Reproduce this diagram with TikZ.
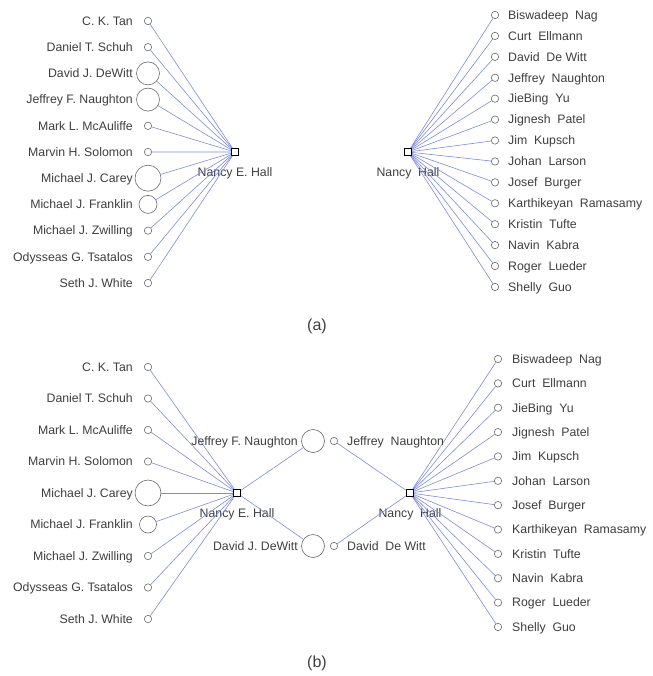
\documentclass[tikz,border=0pt]{standalone}
\usepackage{fontspec}
\setmainfont{Liberation Sans}
\usetikzlibrary{positioning}
\definecolor{linkblue}{RGB}{124,138,222}
\definecolor{ringgray}{RGB}{105,105,105}
\definecolor{namegray}{RGB}{62,62,62}
\tikzset{author/.style = {circle, draw=ringgray, line width=0.6pt, inner sep=0pt, minimum size=#1}}
\tikzset{hub/.style = {rectangle, draw=black, line width=0.7pt, inner sep=0pt, minimum size=7.5pt}}
\tikzset{link/.style = {draw=linkblue, line width=0.6pt}}
\tikzset{who/.style = {text=namegray, inner sep=2pt, font=\fontsize{12.3}{14}\selectfont}}
\tikzset{caption/.style = {text=namegray, font=\fontsize{16}{19}\selectfont}}

\begin{document}
\begin{tikzpicture}[x=1pt, y=-1pt]
    \useasboundingbox (0, 0) rectangle (652, 676);

    % (a)
    \node [hub] (hubA) at (235, 152) {};
    \node [who, below=9pt of hubA] (hubAname) {Nancy E. Hall};
    \foreach \name/\r [count=\i] in {C. K. Tan/7.4, Daniel T. Schuh/7.4,
        David J. DeWitt/23, Jeffrey F. Naughton/23, Mark L. McAuliffe/7.4,
        Marvin H. Solomon/7.4, Michael J. Carey/26, Michael J. Franklin/18,
        Michael J. Zwilling/7.4, Odysseas G. Tsatalos/7.4, Seth J. White/7.4} {
      \pgfmathsetmacro{\y}{21 + (\i - 1) * 26.2}
      \node [author=\r pt] (la\i) at (148, \y) {};
      \node [who, anchor=base east] (lat\i) at (135, \y + 4.3) {\name};
      \draw [link] (hubA) -- (la\i);
    }

    \node [hub] (hubB) at (408, 152) {};
    \node [who, below=9pt of hubB] (hubBname) {Nancy\ \ Hall};
    \foreach \name [count=\i] in {Biswadeep\ \ Nag, Curt\ \ Ellmann,
        David\ \ De Witt, Jeffrey\ \ Naughton, JieBing\ \ Yu, Jignesh\ \ Patel,
        Jim\ \ Kupsch, Johan\ \ Larson, Josef\ \ Burger,
        Karthikeyan\ \ Ramasamy, Kristin\ \ Tufte, Navin\ \ Kabra,
        Roger\ \ Lueder, Shelly\ \ Guo} {
      \pgfmathsetmacro{\y}{15 + (\i - 1) * 20.92}
      \node [author=7.4pt] (ra\i) at (495, \y) {};
      \node [who, anchor=base west] (rat\i) at (506, \y + 4.3) {\name};
      \draw [link] (hubB) -- (ra\i);
    }

    \node [caption] (capA) at (317, 326) {(a)};

    % (b)
    \node [hub] (hubC) at (237, 493) {};
    \node [who, below=9pt of hubC] (hubCname) {Nancy E. Hall};
    \foreach \name/\r [count=\i] in {C. K. Tan/7.4, Daniel T. Schuh/7.4,
        Mark L. McAuliffe/7.4, Marvin H. Solomon/7.4, Michael J. Carey/26,
        Michael J. Franklin/17, Michael J. Zwilling/7.4,
        Odysseas G. Tsatalos/7.4, Seth J. White/7.4} {
      \pgfmathsetmacro{\y}{367 + (\i - 1) * 31.5}
      \node [author=\r pt] (lb\i) at (148, \y) {};
      \node [who, anchor=base east] (lbt\i) at (135, \y + 4.3) {\name};
      \draw [link] (hubC) -- (lb\i);
    }

    \node [hub] (hubD) at (410, 493) {};
    \node [who, below=9pt of hubD] (hubDname) {Nancy\ \ Hall};
    \foreach \name [count=\i] in {Biswadeep\ \ Nag, Curt\ \ Ellmann,
        JieBing\ \ Yu, Jignesh\ \ Patel, Jim\ \ Kupsch, Johan\ \ Larson,
        Josef\ \ Burger, Karthikeyan\ \ Ramasamy, Kristin\ \ Tufte,
        Navin\ \ Kabra, Roger\ \ Lueder, Shelly\ \ Guo} {
      \pgfmathsetmacro{\y}{359 + (\i - 1) * 24.36}
      \node [author=7.4pt] (rb\i) at (498, \y) {};
      \node [who, anchor=base west] (rbt\i) at (510, \y + 4.3) {\name};
      \draw [link] (hubD) -- (rb\i);
    }

    % shared authors in the middle
    \node [author=23pt] (jfn) at (313, 441) {};
    \node [who, anchor=base east] (jfnt) at (300, 445.3) {Jeffrey F. Naughton};
    \node [author=23pt] (djd) at (313, 546) {};
    \node [who, anchor=base east] (djdt) at (300, 550.3) {David J. DeWitt};
    \node [author=7.4pt] (jn) at (334, 441) {};
    \node [who, anchor=base west] (jnt) at (345, 445.3) {Jeffrey\ \ Naughton};
    \node [author=7.4pt] (ddw) at (334, 546) {};
    \node [who, anchor=base west] (ddwt) at (345, 550.3) {David\ \ De Witt};
    \draw [link] (hubC) -- (jfn);
    \draw [link] (hubC) -- (djd);
    \draw [link] (hubD) -- (jn);
    \draw [link] (hubD) -- (ddw);

    \node [caption] (capB) at (317, 663) {(b)};
\end{tikzpicture}
\end{document}
